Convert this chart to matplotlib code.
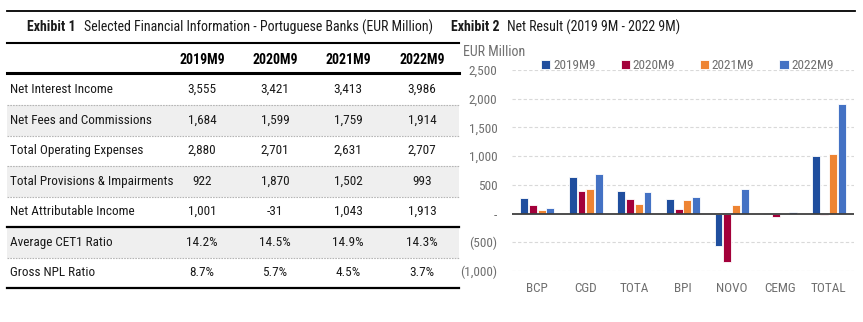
"""Portuguese banks — 9M financial summary table and net result bar chart."""

import numpy as np
import matplotlib
matplotlib.use("Agg")
import matplotlib.pyplot as plt
from matplotlib import font_manager
from matplotlib.lines import Line2D
from matplotlib.patches import Rectangle


# --- data -------------------------------------------------------------------
PERIODS = ["2019M9", "2020M9", "2021M9", "2022M9"]

TABLE_ROWS = [
    "Net Interest Income",
    "Net Fees and Commissions",
    "Total Operating Expenses",
    "Total Provisions & Impairments",
    "Net Attributable Income",
    "Average CET1 Ratio",
    "Gross NPL Ratio",
]
TABLE_VALUES = [
    [3555, 3421, 3413, 3986],
    [1684, 1599, 1759, 1914],
    [2880, 2701, 2631, 2707],
    [922, 1870, 1502, 993],
    [1001, -31, 1043, 1913],
    [14.2, 14.5, 14.9, 14.3],
    [8.7, 5.7, 4.5, 3.7],
]
PCT_ROWS = {"Average CET1 Ratio", "Gross NPL Ratio"}

BANKS = ["BCP", "CGD", "TOTA", "BPI", "NOVO", "CEMG", "TOTAL"]
net_2019 = [273, 640, 390, 250, -570, 12, 1001]
net_2020 = [145, 395, 256, 87, -849, -58, -31]
net_2021 = [58, 430, 169, 244, 151, -8, 1043]
net_2022 = [99, 692, 384, 285, 424, 20, 1913]

Y_TICKS = [-1000, -500, 0, 500, 1000, 1500, 2000, 2500]

COLORS = ["#1f4e9e", "#a3003a", "#ee8433", "#4472c4"]


def pick_font(candidates):
    names = {f.name for f in font_manager.fontManager.ttflist}
    for name in candidates:
        if name in names:
            return name
    return "DejaVu Sans"


NARROW = pick_font(["Liberation Sans Narrow", "Roboto Condensed", "Open Sans Condensed",
                    "DejaVu Sans Condensed", "Roboto"])
plt.rcParams["font.family"] = [NARROW, "DejaVu Sans"]


def fmt_amount(v):
    return f"{v:,.0f}"


def fmt_axis(v):
    if v == 0:
        return "-"
    if v < 0:
        return f"({abs(v):,.0f})"
    return f"{v:,.0f}"


fig = plt.figure(figsize=(8.63, 3.22), dpi=100)

# canvas axes in pixel units for the table and headings
bg = fig.add_axes([0, 0, 1, 1])
bg.set_xlim(0, 863)
bg.set_ylim(322, 0)
bg.axis("off")

TXT = "#1a1a1a"
FS = 9.5

# top rule spanning both exhibits
bg.add_line(Line2D([7, 855], [11, 11], color="black", lw=1.3))

# --- Exhibit 1: table --------------------------------------------------------
bg.text(27, 27, "Exhibit 1", fontsize=FS + 0.5, fontweight="bold", color=TXT, va="center")
bg.text(84, 27, "Selected Financial Information - Portuguese Banks (EUR Million)",
        fontsize=FS + 0.5, color=TXT, va="center")
bg.add_line(Line2D([7, 459], [43, 43], color="black", lw=1.5))

col_x = [202, 275, 348, 422]
for x, p in zip(col_x, PERIODS):
    bg.text(x, 60, p, fontsize=FS + 0.5, fontweight="bold", color="black",
            ha="center", va="center")
bg.add_line(Line2D([7, 459], [73, 73], color="black", lw=2.2))

row_top = 74.5
row_h = 30.5
for i, (label, vals) in enumerate(zip(TABLE_ROWS, TABLE_VALUES)):
    y0 = row_top + i * row_h
    yc = y0 + row_h / 2
    if i % 2 == 1:
        bg.add_patch(Rectangle((7, y0), 452, row_h, facecolor="#efefef", edgecolor="none"))
    bg.text(10, yc, label, fontsize=FS, color=TXT, va="center")
    for x, v in zip(col_x, vals):
        s = f"{v:.1f}%" if label in PCT_ROWS else fmt_amount(v)
        bg.text(x, yc, s, fontsize=FS, color=TXT, ha="center", va="center")
    y1 = y0 + row_h
    if label == "Net Attributable Income" or i == len(TABLE_ROWS) - 1:
        bg.add_line(Line2D([7, 459], [y1, y1], color="black", lw=1.6, zorder=3))
    else:
        bg.add_line(Line2D([7, 459], [y1, y1], color="#b5b5b5", lw=0.8,
                           ls=(0, (1.5, 1)), zorder=3))

# --- Exhibit 2: bar chart ----------------------------------------------------
bg.text(451, 27, "Exhibit 2", fontsize=FS + 0.5, fontweight="bold", color=TXT, va="center")
bg.text(507, 27, "Net Result (2019 9M - 2022 9M)", fontsize=FS + 0.5, color=TXT, va="center")

ax = fig.add_axes([512 / 863, 51 / 322, 342 / 863, 201 / 322])
ax.set_facecolor("none")
series = [net_2019, net_2020, net_2021, net_2022]
x = np.arange(len(BANKS))
step = 0.18
width = 0.16
for k, (vals, color, name) in enumerate(zip(series, COLORS, PERIODS)):
    ax.bar(x + (k - 1.5) * step, vals, width=width, color=color, edgecolor="white",
           linewidth=0.6, label=name, zorder=3)

ax.set_xlim(-0.52, len(BANKS) - 0.48)
ax.set_ylim(-1000, 2500)
ax.set_yticks(Y_TICKS)
ax.set_yticklabels([fmt_axis(v) for v in Y_TICKS])
ax.set_xticks(x)
ax.set_xticklabels(BANKS)
ax.tick_params(axis="y", length=0, pad=10.5, labelsize=FS, labelcolor="#6f6f6f")
ax.tick_params(axis="x", length=0, pad=8, labelsize=FS, labelcolor="#6f6f6f")
for s in ax.spines.values():
    s.set_visible(False)
for v in Y_TICKS:
    if v != 0:
        ax.axhline(v, color="#d9d9d9", lw=0.8, ls=(0, (3, 2)), zorder=1)
ax.axhline(0, color="#3f3f3f", lw=1.3, zorder=4)

bg.text(463, 52, "EUR Million", fontsize=FS + 0.5, color="#6f6f6f", va="center")

ax.legend(loc="lower left", bbox_to_anchor=(0.085, 0.99), ncol=4, frameon=False,
          handlelength=0.7, handleheight=0.7, handletextpad=0.2, columnspacing=1.9,
          fontsize=FS, labelcolor="#6f6f6f", borderaxespad=0, borderpad=0)

fig.savefig("out.png", dpi=100, facecolor="white")
